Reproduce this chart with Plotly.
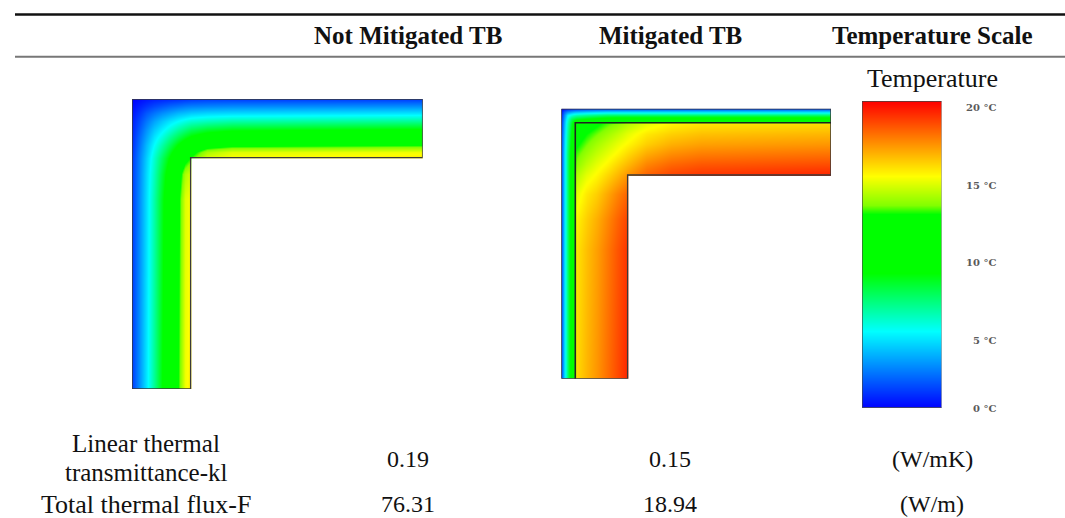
import plotly.graph_objects as go

W, H = 1065, 518

# ---- table text
col_headers = ["Not Mitigated TB", "Mitigated TB", "Temperature Scale"]
row1_label = ["Linear thermal", "transmittance-kl"]
row2_label = "Total thermal flux-F"
row1_values = ["0.19", "0.15", "(W/mK)"]
row2_values = ["76.31", "18.94", "(W/m)"]
scale_title = "Temperature"
scale_ticks = ["20 °C", "15 °C", "10 °C", "5 °C", "0 °C"]
scale_tick_y_px = [107, 185, 262, 340, 408]

# ---- colour scale stops: (temperature in °C, colour)
stop_temps = [0, 5, 8.8, 12.6, 13.2, 15.1, 20]
stop_colors = ["#0000ff", "#00ffff", "#00ff00", "#00ff00", "#82ff00", "#ffff00", "#ff0000"]
scale_values = [0, 5, 8.8, 12.6, 13.2, 15.1, 20]

# ---- not mitigated section: temperature (°C) by distance from outer faces (px)
nm_pos = [0, 7, 14, 22, 30, 38, 46, 53, 58.7, 75, 100, 290.7]
nm_pos_y = [0, 7, 14, 22, 30, 38, 46, 53, 58.7, 75, 100, 290]
N = None
nm_temp = [
    [0, .2, .4, .6, .7, .8, .9, 1, 1.1, 1.2, 1.2, 1.2],
    [.2, .6, 1, 1.4, 1.7, 2, 2.2, 2.4, 2.5, 2.6, 2.7, 2.8],
    [.4, 1, 1.7, 2.3, 2.8, 3.2, 3.6, 3.8, 4, 4.2, 4.3, 4.5],
    [.6, 1.4, 2.3, 3.2, 3.9, 4.5, 5, 5.4, 5.7, 6, 6.3, 6.6],
    [.7, 1.7, 2.8, 3.9, 4.7, 5.5, 6.3, 6.9, 7.4, 8, 8.4, 8.8],
    [.8, 2, 3.2, 4.5, 5.5, 6.6, 7.6, 8.4, 9, 9.9, 10.5, 11],
    [.9, 2.2, 3.6, 5, 6.3, 7.6, 8.9, 9.9, 10.6, 11.7, 12.2, 12.6],
    [1, 2.4, 3.8, 5.4, 6.9, 8.4, 9.9, 11, 12, 13.8, 14.6, 14.9],
    [1.1, 2.5, 4, 5.7, 7.4, 9, 10.6, 12, 12.8, 14.6, 15.1, 15.5],
    [1.2, 2.6, 4.2, 6, 8, 9.9, 11.7, 13.8, 14.6, N, N, N],
    [1.2, 2.7, 4.3, 6.3, 8.4, 10.5, 12.2, 14.6, 15.1, N, N, N],
    [1.2, 2.8, 4.5, 6.6, 8.8, 11, 12.6, 14.9, 15.5, N, N, N],
]
nm_size = (290.7, 290)
nm_inner = 58.7

# ---- mitigated section
m_pos = [0, 3, 6, 10, 13, 15, 25, 35, 45, 55, 66.4, 85, 110, 140, 270]
m_temp = [
    [0, .5, .8, 1, 1.1, 1.2, 1.4, 1.5, 1.5, 1.5, 1.5, 1.5, 1.5, 1.5, 1.5],
    [.5, 2, 2.8, 3.3, 3.6, 3.7, 4, 4.2, 4.4, 4.4, 4.4, 4.4, 4.4, 4.4, 4.4],
    [.8, 2.8, 4.6, 5.4, 5.8, 6, 6.4, 6.7, 7, 7, 7, 7, 7, 7, 7],
    [1, 3.3, 5.4, 7.4, 8, 8.3, 8.9, 9.3, 9.7, 10, 10, 10, 10, 10, 10],
    [1.1, 3.6, 5.8, 8, 9.5, 10, 10.8, 11.3, 11.8, 12.1, 12.7, 12.7, 12.7, 12.7, 12.7],
    [1.2, 3.7, 6, 8.3, 10, 11.5, 11.9, 12.4, 12.9, 13.3, 13.9, 14.7, 15.3, 15.6, 15.8],
    [1.4, 4, 6.4, 8.9, 10.8, 11.9, 12.6, 13.1, 13.6, 14.1, 14.7, 15.5, 16, 16.3, 16.5],
    [1.5, 4.2, 6.7, 9.3, 11.3, 12.4, 13.1, 13.7, 14.2, 14.7, 15.2, 16, 16.6, 16.9, 17.1],
    [1.5, 4.4, 7, 9.7, 11.8, 12.9, 13.6, 14.2, 14.7, 15.2, 15.8, 16.7, 17.3, 17.6, 17.8],
    [1.5, 4.4, 7, 10, 12.1, 13.3, 14.1, 14.7, 15.2, 15.8, 16.4, 17.4, 18, 18.3, 18.5],
    [1.5, 4.4, 7, 10, 12.7, 13.9, 14.7, 15.2, 15.8, 16.4, 17.1, 18.1, 18.7, 19, 19.3],
    [1.5, 4.4, 7, 10, 12.7, 14.7, 15.5, 16, 16.7, 17.4, 18.1, N, N, N, N],
    [1.5, 4.4, 7, 10, 12.7, 15.3, 16, 16.6, 17.3, 18, 18.7, N, N, N, N],
    [1.5, 4.4, 7, 10, 12.7, 15.6, 16.3, 16.9, 17.6, 18.3, 19, N, N, N, N],
    [1.5, 4.4, 7, 10, 12.7, 15.8, 16.5, 17.1, 17.8, 18.5, 19.3, N, N, N, N],
]
m_size = (269.7, 270)
m_inner = 66.4
m_layer = 14

colorscale = [[t / 20, c] for t, c in zip(stop_temps, stop_colors)]
FONT = "Liberation Serif"
TEXT = "#111111"
EDGE = "#3a3a3a"

NM_BOX = (132, 422.7, 99, 389)
M_BOX = (561.3, 831, 108.7, 378.7)
SCALE_BOX = (862, 941.7, 101, 407.7)


def px_x(p):
    return p / W


def px_y(p):
    return 1 - p / H


def axes(n, box, xr, yr):
    x0, x1, y0, y1 = box
    common = dict(visible=False, fixedrange=True)
    return {
        f"xaxis{n}": dict(domain=[px_x(x0), px_x(x1)], range=xr, anchor=f"y{n}", **common),
        f"yaxis{n}": dict(domain=[px_y(y1), px_y(y0)], range=yr, anchor=f"x{n}", **common),
    }


fig = go.Figure()
shapes = []


def section(n, xs, ys, z, size, inner, box):
    sw, sh = size
    fig.add_trace(go.Heatmap(x=xs, y=ys, z=z, zmin=0, zmax=20, colorscale=colorscale,
                             zsmooth="best", showscale=False, xaxis=f"x{n}", yaxis=f"y{n}",
                             hoverinfo="skip"))
    # outline of the L
    fig.add_trace(go.Scatter(x=[0, sw, sw, inner, inner, 0, 0], y=[0, 0, inner, inner, sh, sh, 0],
                             mode="lines", line=dict(width=1.5, color=EDGE), xaxis=f"x{n}",
                             yaxis=f"y{n}", hoverinfo="skip", showlegend=False, cliponaxis=False))
    # white recess of the L (paper coordinates so it also hides the image's edge pixels)
    shapes.append(dict(type="rect", xref="paper", yref="paper", layer="above",
                       x0=px_x(box[0] + inner + 0.8), x1=px_x(box[1] + 12),
                       y0=px_y(box[2] + inner + 0.8), y1=px_y(box[3] + 12),
                       fillcolor="white", line=dict(width=0)))


section("", nm_pos, nm_pos_y, nm_temp, nm_size, nm_inner, NM_BOX)
section("2", m_pos, m_pos, m_temp, m_size, m_inner, M_BOX)
# insulation interface in the mitigated section
fig.add_trace(go.Scatter(x=[m_layer, m_layer, m_size[0]], y=[m_size[1], m_layer, m_layer],
                         mode="lines", line=dict(width=1.6, color="#222222"), xaxis="x2",
                         yaxis="y2", hoverinfo="skip", showlegend=False))
# temperature scale
fig.add_trace(go.Heatmap(x=[0, 1], y=scale_values, z=[[v, v] for v in scale_values], zmin=0, zmax=20,
                         colorscale=colorscale, zsmooth="best", showscale=False, xaxis="x3",
                         yaxis="y3", hoverinfo="skip"))
fig.add_trace(go.Scatter(x=[1, 0, 0, 1], y=[20, 20, 0, 0], mode="lines",
                         line=dict(width=1.3, color="#444444"), xaxis="x3", yaxis="y3",
                         hoverinfo="skip", showlegend=False, cliponaxis=False))
fig.add_trace(go.Scatter(x=[1, 1], y=[0, 20], mode="lines",
                         line=dict(width=1.2, color="#999999"), xaxis="x3", yaxis="y3",
                         hoverinfo="skip", showlegend=False, cliponaxis=False))

layout_axes = {}
layout_axes.update(axes("", NM_BOX, [0, nm_size[0]], [nm_size[1], 0]))
layout_axes.update(axes("2", M_BOX, [0, m_size[0]], [m_size[1], 0]))
layout_axes.update(axes("3", SCALE_BOX, [0, 1], [0, 20]))

anns = []


def text(x, y, s, size=26, bold=False, color=TEXT, font=FONT, xanchor="center"):
    anns.append(dict(x=px_x(x), y=px_y(y), xref="paper", yref="paper", text=f"<b>{s}</b>" if bold else s,
                     showarrow=False, xanchor=xanchor, yanchor="middle",
                     font=dict(family=font, size=size, color=color), borderpad=0, borderwidth=0))


col_x = [408, 670, 932]
for x, s in zip(col_x, col_headers):
    text(x, 36, s, size=25, bold=True)
text(932, 78, scale_title)
text(146, 443, row1_label[0], size=25)
text(146, 472, row1_label[1], size=25)
text(146, 504, row2_label)
for x, s in zip(col_x, row1_values):
    text(x, 459, s, size=24)
for x, s in zip(col_x, row2_values):
    text(x, 504, s, size=24)
for y, s in zip(scale_tick_y_px, scale_ticks):
    text(996, y, s, size=10, bold=True, color="#5a5a5a", font="DejaVu Serif", xanchor="right")

shapes += [
    dict(type="line", xref="paper", yref="paper", x0=px_x(15), x1=1, y0=px_y(14.5), y1=px_y(14.5),
         line=dict(color="#111111", width=2.5)),
    dict(type="line", xref="paper", yref="paper", x0=px_x(15), x1=1, y0=px_y(56.7), y1=px_y(56.7),
         line=dict(color="#777777", width=2)),
]

fig.update_layout(width=W, height=H, autosize=False, margin=dict(l=0, r=0, t=0, b=0),
                  paper_bgcolor="white", plot_bgcolor="white", showlegend=False,
                  annotations=anns, shapes=shapes, **layout_axes)

fig.write_html("out.html", config={"displayModeBar": False},
               post_script="document.body.style.margin='0';document.body.style.overflow='hidden';")
